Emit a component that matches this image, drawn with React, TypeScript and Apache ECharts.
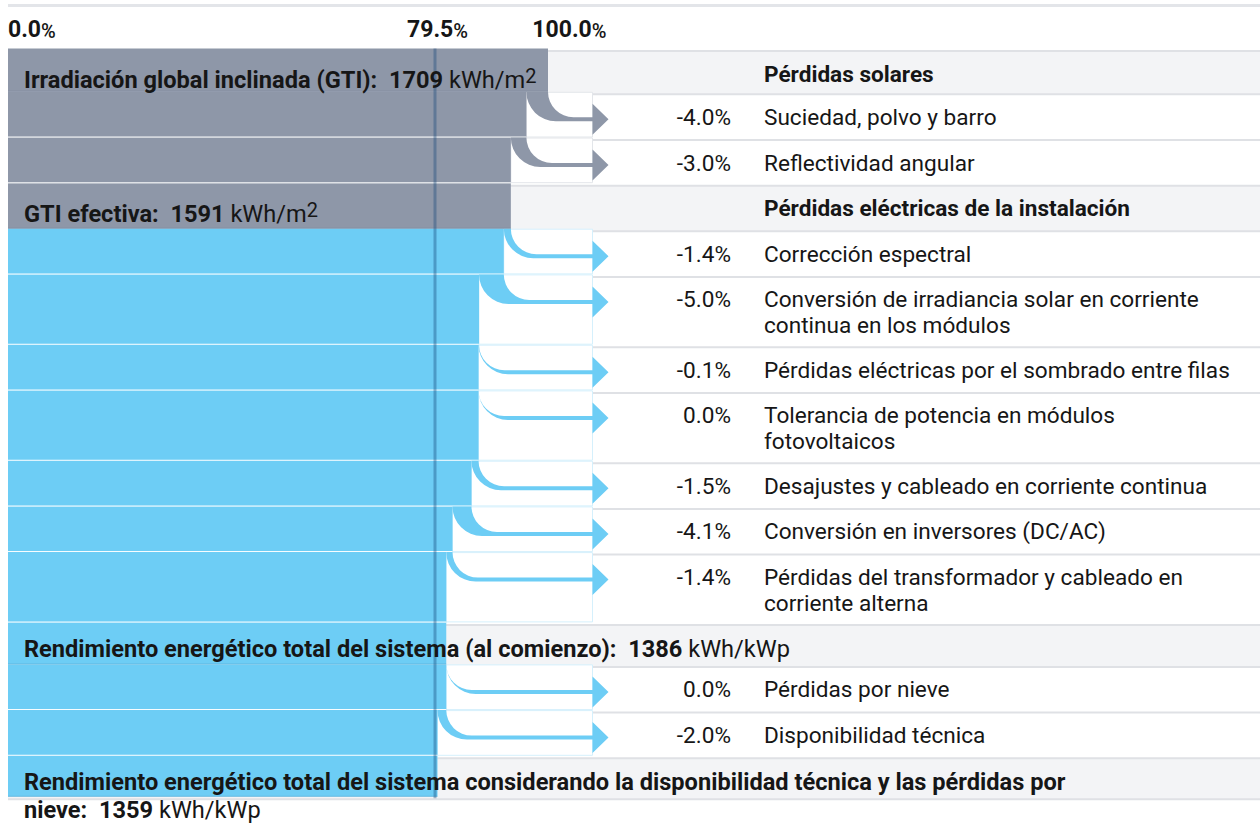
import React, { useEffect, useRef } from "react";
import * as echarts from "echarts";

// ---------- data ----------
const axisTickLabels = ["0.0%", "79.5%", "100.0%"];
const sectionTitles = ["Pérdidas solares", "Pérdidas eléctricas de la instalación"];

const gtiLabel = "Irradiación global inclinada (GTI):";
const gtiValue = 1709;
const effectiveLabel = "GTI efectiva:";
const effectiveValue = 1591;
const irradianceUnit = "kWh/m";
const startYieldLabel = "Rendimiento energético total del sistema (al comienzo):";
const startYieldValue = 1386;
const finalYieldLabel =
  "Rendimiento energético total del sistema considerando la disponibilidad técnica y las pérdidas por\nnieve:";
const finalYieldValue = 1359;
const yieldUnit = "kWh/kWp";

const solarLossLabels = ["Suciedad, polvo y barro", "Reflectividad angular"];
const solarLossValues = [-4.0, -3.0];

const electricalLossLabels = [
  "Corrección espectral",
  "Conversión de irradiancia solar en corriente\ncontinua en los módulos",
  "Pérdidas eléctricas por el sombrado entre filas",
  "Tolerancia de potencia en módulos\nfotovoltaicos",
  "Desajustes y cableado en corriente continua",
  "Conversión en inversores (DC/AC)",
  "Pérdidas del transformador y cableado en\ncorriente alterna",
];
const electricalLossValues = [-1.4, -5.0, -0.1, 0.0, -1.5, -4.1, -1.4];

const operationLossLabels = ["Pérdidas por nieve", "Disponibilidad técnica"];
const operationLossValues = [0.0, -2.0];

// ---------- styles / layout ----------
const FONT = "Roboto, 'Noto Sans', sans-serif";
const GRAY = "#8e97a8";
const BLUE = "#6dcdf5";
const TEXT = "#161616";
const LOSS_H = 45.7;
const EXTRA_LINE = 24.6;
const TABLE_TOP = 51;
const PCT_X = 731;
const LABEL_X = 764;
const BODY_SIZE = 22.6;
const HEAD_SIZE = 23.6;

type Row = {
  kind: "head" | "loss";
  tone: "gray" | "blue";
  from: number;
  to: number;
  h: number;
  top: number;
  textDy: number;
  leftRich?: string;
  right?: string;
  pct?: string;
  label?: string;
};

function buildRows(): Row[] {
  const rows: Row[] = [];
  let level = 100;
  const head = (tone: "gray" | "blue", leftRich: string, right: string | undefined, h: number, textDy: number) => {
    rows.push({ kind: "head", tone, from: level, to: level, h, top: 0, textDy, leftRich, right });
  };
  const losses = (tone: "gray" | "blue", labels: string[], values: number[]) => {
    values.forEach((v, i) => {
      const next = level * (1 + v / 100);
      const lines = labels[i].split("\n").length;
      rows.push({
        kind: "loss",
        tone,
        from: level,
        to: next,
        h: LOSS_H + (lines - 1) * EXTRA_LINE,
        top: 0,
        textDy: 10,
        pct: v.toFixed(1) + "%",
        label: labels[i],
      });
      level = next;
    });
  };
  head("gray", `{b|${gtiLabel}  ${gtiValue}} {r|${irradianceUnit}}{s|2}`, sectionTitles[0], 43.3, 12.5);
  losses("gray", solarLossLabels, solarLossValues);
  head("gray", `{b|${effectiveLabel}  ${effectiveValue}} {r|${irradianceUnit}}{s|2}`, sectionTitles[1], 45.5, 12.5);
  losses("blue", electricalLossLabels, electricalLossValues);
  head("blue", `{b|${startYieldLabel}  ${startYieldValue}} {r|${yieldUnit}}`, undefined, 42, 7.8);
  losses("blue", operationLossLabels, operationLossValues);
  head("blue", `{b|${finalYieldLabel}  ${finalYieldValue}} {r|${yieldUnit}}`, undefined, 41, 8);
  let y = TABLE_TOP;
  rows.forEach((r) => {
    r.top = y;
    y += r.h;
  });
  return rows;
}

const rows = buildRows();
const finalLevel = rows[rows.length - 1].to;

const headRich = {
  b: { fontFamily: FONT, fontSize: HEAD_SIZE, fontWeight: 700, lineHeight: 28, verticalAlign: "bottom", fill: TEXT },
  r: { fontFamily: FONT, fontSize: HEAD_SIZE, fontWeight: 400, lineHeight: 28, verticalAlign: "bottom", fill: TEXT },
  s: { fontFamily: FONT, fontSize: 20, fontWeight: 400, lineHeight: 20, padding: [2, 0, 11, 0], verticalAlign: "top", fill: TEXT },
};
const tickRich = {
  n: { fontFamily: FONT, fontSize: 23, fontWeight: 700, fill: TEXT, verticalAlign: "bottom", lineHeight: 26 },
  p: { fontFamily: FONT, fontSize: 20, fontWeight: 500, fill: TEXT, verticalAlign: "bottom", lineHeight: 26 },
};
const tickText = (s: string) => `{n|${s.replace(/%$/, "")}}{p|%}`;

function renderItem(params: any, api: any) {
  const i = api.value(2) as number;
  const r = rows[i];
  const W = api.getWidth();
  const x0 = api.coord([0, 0])[0];
  const x100 = api.coord([100, 0])[0];
  const xTo = api.coord([r.to, 0])[0];
  const xFrom = api.coord([r.from, 0])[0];
  const tTop = api.coord([0, r.top])[1];
  const tBot = api.coord([0, r.top + r.h])[1];
  const bTop = tTop - 2.5;
  const bBot = tBot - 2.5;
  const xBase = x100 + 44.5;
  const color = r.tone === "gray" ? GRAY : BLUE;
  const children: any[] = [];

  if (r.kind === "head") {
    children.push({ type: "rect", shape: { x: x0, y: tTop, width: W - x0, height: tBot - tTop }, style: { fill: "#f3f4f6" }, z2: 0 });
  }
  children.push({ type: "rect", shape: { x: x0, y: tTop - 1, width: W - x0, height: 2 }, style: { fill: "#dfe1e5" }, z2: 1 });
  if (i === rows.length - 1) {
    children.push({ type: "rect", shape: { x: x0, y: tBot - 1, width: W - x0, height: 2 }, style: { fill: "#dfe1e5" }, z2: 1 });
  }

  if (r.kind === "loss") {
    children.push({
      type: "rect",
      shape: { x: xTo, y: bTop + 0.5, width: xBase - xTo, height: r.h - 1 },
      style: { fill: "#ffffff", stroke: r.tone === "gray" ? "#e3e6ea" : "#d5f0fc", lineWidth: 1 },
      z2: 2,
    });
  }

  // bar
  children.push({ type: "rect", shape: { x: x0, y: bTop, width: xTo - x0, height: r.h }, style: { fill: color }, z2: 3 });
  children.push({
    type: "rect",
    shape: { x: x0, y: bBot - 1, width: xTo - x0, height: 1 },
    style: { fill: r.kind === "loss" ? "rgba(255,255,255,0.95)" : "rgba(0,40,80,0.12)" },
    z2: 4,
  });

  if (r.kind === "loss") {
    const cy = bTop + 27.5;
    const ro = cy + 2 - bTop;
    const ri = cy - 2 - bTop;
    const hw = 15.5;
    const tip = 16;
    const d =
      `M${xTo},${bTop} A${ro},${ro} 0 0 0 ${xTo + ro},${cy + 2} L${xBase},${cy + 2} L${xBase},${cy + hw} ` +
      `L${xBase + tip},${cy} L${xBase},${cy - hw} L${xBase},${cy - 2} L${xFrom + ri},${cy - 2} ` +
      `A${ri},${ri} 0 0 1 ${xFrom},${bTop} Z`;
    children.push({ type: "path", shape: { pathData: d }, style: { fill: color }, z2: 4 });

    children.push({
      type: "text",
      x: PCT_X,
      y: tTop + r.textDy,
      style: { text: r.pct, fontFamily: FONT, fontSize: BODY_SIZE, fontWeight: 400, lineHeight: 26, fill: TEXT, align: "right", verticalAlign: "top" },
      z2: 7,
    });
    children.push({
      type: "text",
      x: LABEL_X,
      y: tTop + r.textDy,
      style: { text: r.label, fontFamily: FONT, fontSize: BODY_SIZE, fontWeight: 400, lineHeight: 26, fill: TEXT, align: "left", verticalAlign: "top" },
      z2: 7,
    });
  } else {
    children.push({
      type: "text",
      x: x0 + 16,
      y: tTop + r.textDy,
      style: { text: r.leftRich, rich: headRich, fontFamily: FONT, fontSize: HEAD_SIZE, lineHeight: 28, fill: TEXT, align: "left", verticalAlign: "top" },
      z2: 7,
    });
    if (r.right) {
      children.push({
        type: "text",
        x: LABEL_X,
        y: tTop + 10,
        style: { text: r.right, fontFamily: FONT, fontSize: BODY_SIZE, fontWeight: 700, lineHeight: 26, fill: TEXT, align: "left", verticalAlign: "top" },
        z2: 7,
      });
    }
  }

  if (i === 0) {
    // top rule
    children.push({ type: "rect", shape: { x: x0, y: 4, width: W - x0, height: 3 }, style: { fill: "#e3e5e9" }, z2: 1 });
    // tick labels
    const xFinal = api.coord([finalLevel, 0])[0];
    const tickY = 28;
    children.push({ type: "text", x: x0, y: tickY, style: { text: tickText(axisTickLabels[0]), rich: tickRich, align: "left", verticalAlign: "middle" }, z2: 7 });
    children.push({ type: "text", x: xFinal, y: tickY, style: { text: tickText(axisTickLabels[1]), rich: tickRich, align: "center", verticalAlign: "middle" }, z2: 7 });
    children.push({ type: "text", x: xBase + 14, y: tickY, style: { text: tickText(axisTickLabels[2]), rich: tickRich, align: "right", verticalAlign: "middle" }, z2: 7 });
    // final-level marker line
    const last = rows[rows.length - 1];
    const yEnd = api.coord([0, last.top + last.h])[1] - 1;
    children.push({
      type: "rect",
      shape: { x: xFinal - 4, y: bTop, width: 3, height: yEnd - bTop },
      style: { fill: "rgba(20,70,120,0.38)" },
      z2: 6,
    });
  }

  return { type: "group", children };
}

export default function App() {
  const ref = useRef<HTMLDivElement>(null);
  useEffect(() => {
    if (!ref.current) return;
    const chart = echarts.init(ref.current, undefined, { renderer: "svg" });
    chart.setOption({
      animation: false,
      grid: { left: 8, right: 712, top: 0, bottom: 0, containLabel: false },
      xAxis: { type: "value", min: 0, max: 100, show: false },
      yAxis: { type: "value", min: 0, max: 823, inverse: true, show: false },
      series: [
        {
          type: "custom",
          clip: false,
          silent: true,
          renderItem,
          data: rows.map((r, i) => [r.to, r.top, i]),
          encode: { x: 0, y: 1 },
        },
      ],
    });
    return () => chart.dispose();
  }, []);
  return (
    <div
      ref={ref}
      style={{ position: "fixed", left: 0, top: 0, width: 1260, height: 823, background: "#fff" }}
    />
  );
}
